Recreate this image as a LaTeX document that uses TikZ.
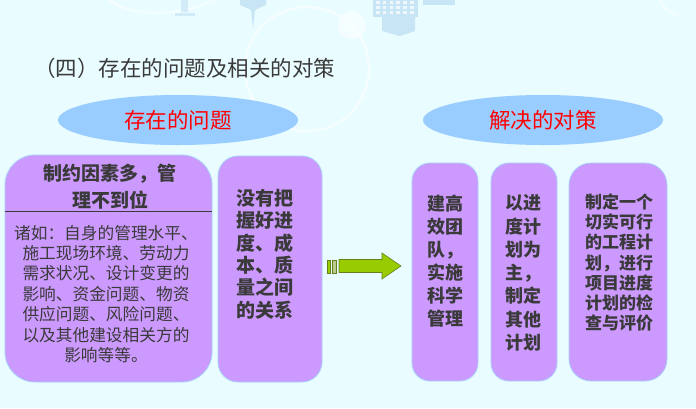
\documentclass[tikz,border=0pt]{standalone}
\usepackage{fontspec}
\newfontfamily\cjk{Noto Sans CJK SC}
\usetikzlibrary{shapes.geometric}
\definecolor{bgc}{HTML}{E9FCFF}
\definecolor{ellc}{HTML}{99CCFF}
\definecolor{boxc}{HTML}{CC99FF}
\definecolor{boxline}{HTML}{A6D2F5}
\definecolor{txt}{HTML}{3A3A3A}
\definecolor{arrowc}{HTML}{99CC00}
\definecolor{arrowline}{HTML}{667F1A}
\definecolor{bldc}{HTML}{C8E5F6}
\tikzset{
  ellbox/.style={ellipse, fill=ellc, draw=none, minimum width=240pt, minimum height=50pt, inner sep=0pt},
  elltext/.style={font=\cjk\fontsize{21.5}{24}\selectfont, text=red},
  purplebox/.style={draw=boxline, line width=0.8pt, fill=boxc, rounded corners=#1, inner sep=0pt},
  boxtext/.style={font=\cjk\bfseries\fontsize{#1}{#1}\selectfont, text=txt, align=center, inner sep=0pt},
}
\begin{document}
\begin{tikzpicture}[x=1pt,y=-1pt]
\useasboundingbox (0,0) rectangle (696,408);
\fill[bgc] (0,0) rectangle (696,408);
% faint background decorations
\draw[white, line width=2.5pt, opacity=0.55] (307,69) circle (62);
\fill[white, opacity=0.5] (352,25) circle (14);
\draw[white, line width=2.5pt, opacity=0.5] (105,-5) .. controls (120,15) and (170,20) .. (215,0);
\draw[white, line width=2.5pt, opacity=0.5] (660,0) .. controls (665,10) and (672,14) .. (678,15);
\fill[bldc] (240,0) -- (266,0) -- (266,5) -- (259,8) -- (255,10) -- (253,28) -- (251,10) -- (247,8) -- (240,5) -- cycle;
\fill[bldc] (373,0) rectangle (418,17);
\fill[bldc] (382,17) -- (415,17) -- (415,31) -- (400,36) -- (382,31) -- cycle;
\foreach \i in {0,...,5}{\foreach \j in {0,1,2}{\fill[white,opacity=0.7] (376+\i*6.8,1+\j*5.2) rectangle ++(3.5,3);}}
\fill[bldc] (423,0) rectangle (455,5);
\fill[bldc, opacity=0.7] (181,0) rectangle (188,12);
\fill[bldc, opacity=0.7] (175,13) rectangle (195,16);
% title
\node[font=\cjk\fontsize{21.5}{24}\selectfont, text=txt, anchor=west, inner sep=0pt] (title) at (34,68) {（四）存在的问题及相关的对策};
% ellipses
\node[ellbox] (e1) at (178,120) {};
\node[elltext] (e1t) at (e1.center) {存在的问题};
\node[ellbox] (e2) at (543,120) {};
\node[elltext] (e2t) at (e2.center) {解决的对策};
% box 1
\node[purplebox=30pt, minimum width=207pt, minimum height=227pt] (b1) at (108.5,268.5) {};
\draw[txt, line width=0.8pt] (b1.west |- 0,211) coordinate (l1) -- (b1.east |- 0,211) coordinate (l2);
\node[boxtext=19, text depth=0pt] (b1t) at (110,186) {制约因素多，管\\[6pt]理不到位};
\node[font=\cjk\fontsize{16.7}{20.4}\selectfont, text=txt, align=center, inner sep=0pt] (b1b) at (106,294) {诸如：自身的管理水平、\\施工现场环境、劳动力\\需求状况、设计变更的\\影响、资金问题、物资\\供应问题、风险问题、\\以及其他建设相关方的\\影响等等。};
% box 2
\node[purplebox=20pt, minimum width=104pt, minimum height=226pt] (b2) at (270,269) {};
\node[boxtext=19, font=\cjk\bfseries\fontsize{19}{22.4}\selectfont] (b2t) at (265,254) {没有把\\握好进\\度、成\\本、质\\量之间\\的关系};
% arrow
\fill[arrowc, draw=arrowline, line width=0.6pt] (327,260) rectangle (330.5,273);
\fill[arrowc!50!gray!60, draw=arrowline, line width=0.6pt] (332,260) rectangle (336,273);
\fill[arrowc, draw=arrowline, line width=0.6pt] (339,259.5) -- (382,259.5) -- (382,253) -- (401,266) -- (382,279) -- (382,272.5) -- (339,272.5) -- cycle;
% box 3
\node[purplebox=18pt, minimum width=66pt, minimum height=218pt] (b3) at (445,272) {};
\node[boxtext=18, font=\cjk\bfseries\fontsize{18}{23}\selectfont] (b3t) at (445,261) {建高\\效团\\队，\\实施\\科学\\管理};
% box 4
\node[purplebox=18pt, minimum width=66pt, minimum height=218pt] (b4) at (524,272) {};
\node[boxtext=18, font=\cjk\bfseries\fontsize{18}{23.3}\selectfont] (b4t) at (523.5,273) {以进\\度计\\划为\\主，\\制定\\其他\\计划};
% box 5
\node[purplebox=22pt, minimum width=98pt, minimum height=218pt] (b5) at (618,272) {};
\node[boxtext=17, font=\cjk\bfseries\fontsize{17}{20.2}\selectfont] (b5t) at (619,262.5) {制定一个\\切实可行\\的工程计\\划，进行\\项目进度\\计划的检\\查与评价};
\end{tikzpicture}
\end{document}
